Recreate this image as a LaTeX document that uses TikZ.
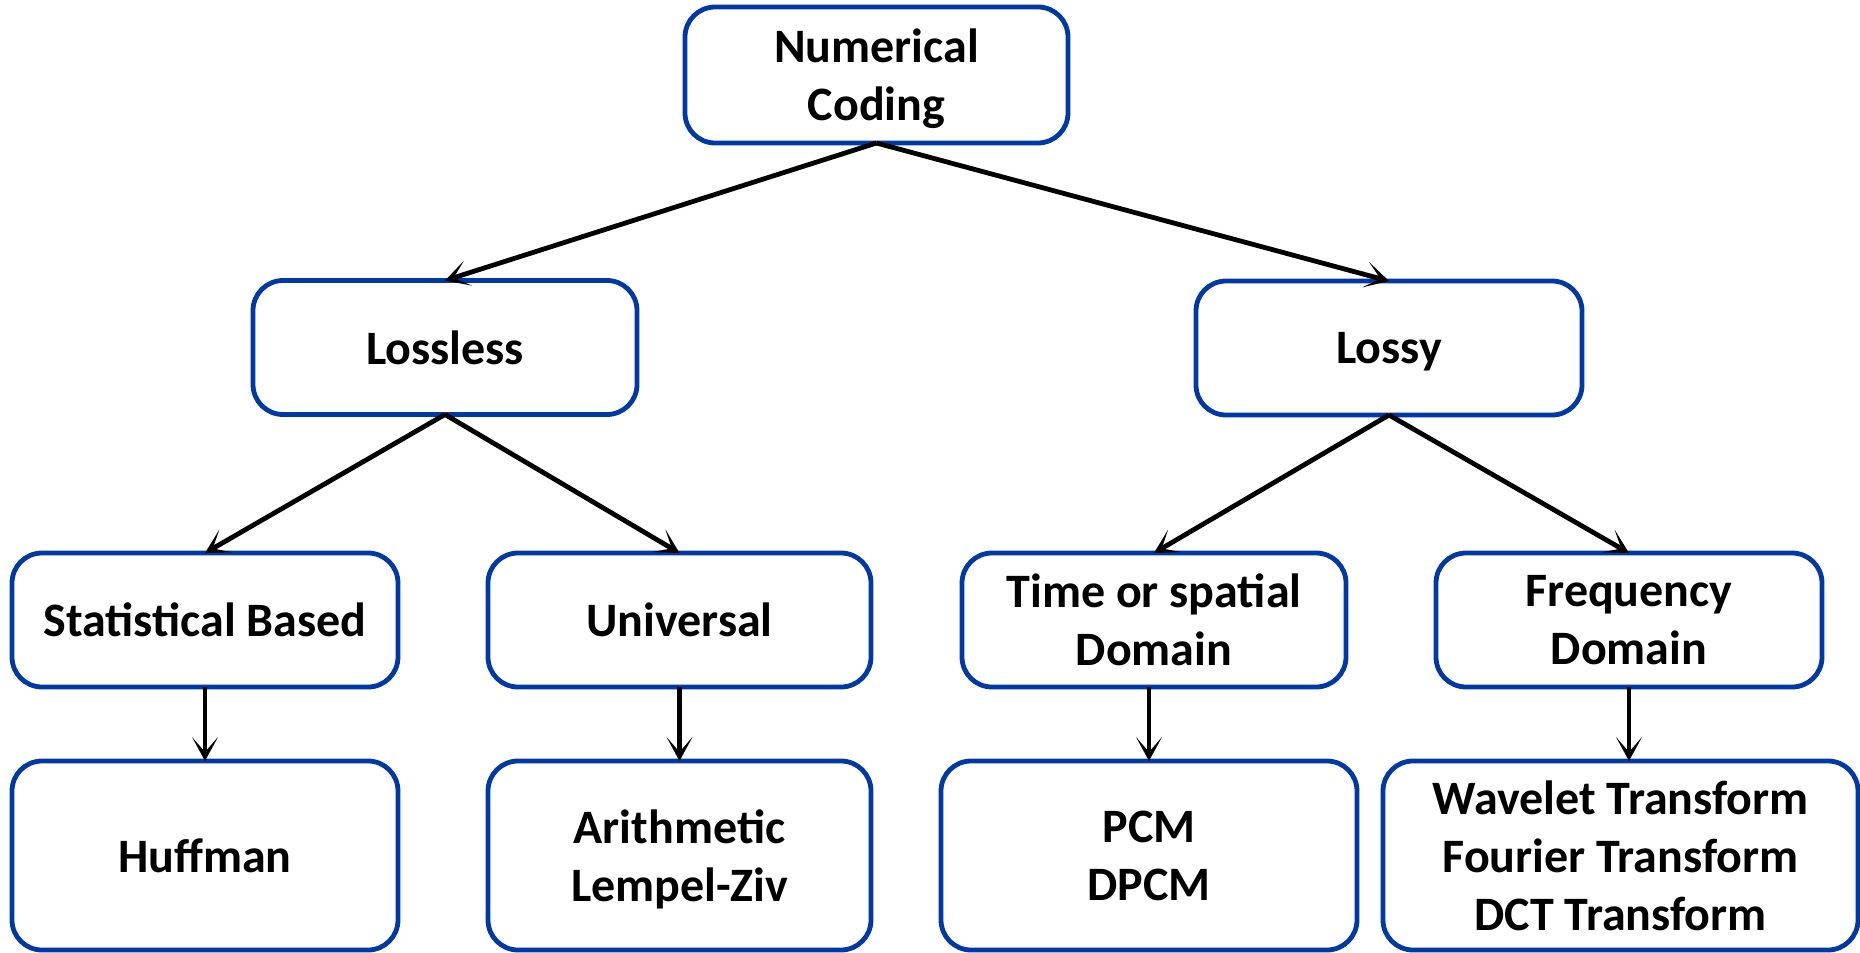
\documentclass[tikz,border=0pt]{standalone}
\usepackage{fontspec}
\setmainfont{Carlito}
\usetikzlibrary{arrows.meta}
\definecolor{boxblue}{RGB}{0,57,166}
\tikzset{
  box/.style={draw=boxblue, line width=2.4pt, rounded corners=15pt, fill=white,
    align=center, inner sep=0pt, outer sep=0pt, text=black, text depth=0pt,
    font=\fontsize{24}{29}\selectfont\bfseries},
  conn/.style={line width=2.4pt, draw=black,
    -{Stealth[length=12pt, width=13pt, inset=7.5pt]}}
}
\begin{document}
\begin{tikzpicture}[x=0.5pt,y=-0.5pt]
\useasboundingbox (0,0) rectangle (1860,953);
\node[box, minimum width=191.5pt, minimum height=68pt] (nc) at (876.5,75) {Numerical\\Coding};
\node[box, minimum width=192pt, minimum height=67pt] (ll) at (445,347.5) {Lossless};
\node[box, minimum width=193pt, minimum height=67pt] (ly) at (1389,348) {Lossy};
\node[box, minimum width=193pt, minimum height=67pt] (sb) at (205,620) {Statistical Based};
\node[box, minimum width=191.5pt, minimum height=67pt] (un) at (679.5,620) {Universal};
\node[box, minimum width=192pt, minimum height=67pt] (ts) at (1154,620) {Time or spatial\\Domain};
\node[box, minimum width=193pt, minimum height=67pt] (fd) at (1629,620) {Frequency\\Domain};
\node[box, minimum width=193pt, minimum height=94.5pt] (hu) at (205,855.5) {Huffman};
\node[box, minimum width=191.5pt, minimum height=94.5pt] (ar) at (679.5,855.5) {Arithmetic\\Lempel-Ziv};
\node[box, minimum width=208pt, minimum height=94.5pt] (pc) at (1149,855.5) {PCM\\DPCM};
\node[box, minimum width=237.5pt, minimum height=94.5pt] (wt) at (1620.5,855.5) {Wavelet Transform\\Fourier Transform\\DCT Transform};
\draw[conn] (nc.south) -- (ll.north);
\draw[conn] (nc.south) -- (ly.north);
\draw[conn] (ll.south) -- (sb.north);
\draw[conn] (ll.south) -- (un.north);
\draw[conn] (ly.south) -- (ts.north);
\draw[conn] (ly.south) -- (fd.north);
\draw[conn] (sb.south) -- (hu.north);
\draw[conn] (un.south) -- (ar.north);
\draw[conn] (ts.south -| pc.north) -- (pc.north);
\draw[conn] (fd.south) -- (fd.south |- wt.north);
\end{tikzpicture}
\end{document}
